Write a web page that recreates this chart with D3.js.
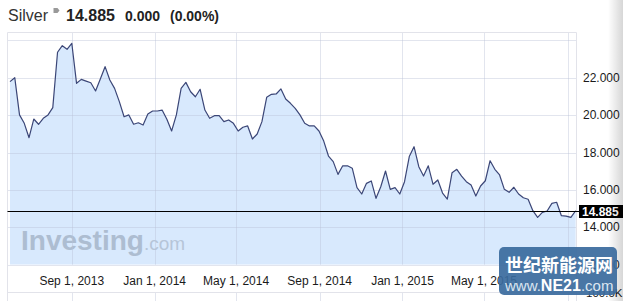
<!DOCTYPE html>
<html><head><meta charset="utf-8">
<script src="https://cdn.jsdelivr.net/npm/d3@7"></script>
<style>body{margin:0;background:#fff;overflow:hidden} svg{display:block}</style>
</head><body><svg id="c" width="623" height="301"></svg>
<script>
const dates = [
"2013-06-02","2013-06-09","2013-06-16","2013-06-23","2013-06-30","2013-07-07","2013-07-14","2013-07-21","2013-07-28",
"2013-08-04","2013-08-11","2013-08-18","2013-08-25","2013-09-01","2013-09-08","2013-09-15","2013-09-22","2013-09-29",
"2013-10-06","2013-10-13","2013-10-20","2013-10-27","2013-11-03","2013-11-10","2013-11-17","2013-11-24",
"2013-12-01","2013-12-08","2013-12-15","2013-12-22","2013-12-29",
"2014-01-05","2014-01-12","2014-01-19","2014-01-26","2014-02-02","2014-02-09","2014-02-16","2014-02-23",
"2014-03-02","2014-03-09","2014-03-16","2014-03-23","2014-03-30","2014-04-06","2014-04-13","2014-04-20","2014-04-27",
"2014-05-04","2014-05-11","2014-05-18","2014-05-25","2014-06-01","2014-06-08","2014-06-15","2014-06-22","2014-06-29",
"2014-07-06","2014-07-13","2014-07-20","2014-07-27","2014-08-03","2014-08-10","2014-08-17","2014-08-24","2014-08-31",
"2014-09-07","2014-09-14","2014-09-21","2014-09-28","2014-10-05","2014-10-12","2014-10-19","2014-10-26",
"2014-11-02","2014-11-09","2014-11-16","2014-11-23","2014-11-30","2014-12-07","2014-12-14","2014-12-21","2014-12-28",
"2015-01-04","2015-01-11","2015-01-18","2015-01-25","2015-02-01","2015-02-08","2015-02-15","2015-02-22",
"2015-03-01","2015-03-08","2015-03-15","2015-03-22","2015-03-29","2015-04-05","2015-04-12","2015-04-19","2015-04-26",
"2015-05-03","2015-05-10","2015-05-17","2015-05-24","2015-05-31","2015-06-07","2015-06-14","2015-06-21","2015-06-28",
"2015-07-05","2015-07-12","2015-07-19","2015-07-26","2015-08-02","2015-08-09","2015-08-16","2015-08-23","2015-08-30",
"2015-09-06","2015-09-13"];
const prices = [
21.79,22.00,20.01,19.56,18.79,19.79,19.51,19.83,20.01,20.40,
23.36,23.71,23.52,23.84,21.70,21.91,21.82,21.73,21.29,21.93,
22.59,21.88,21.43,20.72,19.91,20.01,19.51,19.59,19.47,20.06,
20.22,20.22,20.27,19.78,19.15,20.01,21.43,21.75,21.25,20.98,
21.38,20.27,19.83,19.97,19.97,19.65,19.74,19.56,19.15,19.35,
19.42,18.72,18.99,19.65,20.95,21.11,21.13,21.40,20.86,20.63,
20.36,20.01,19.56,19.42,19.42,19.15,18.61,17.81,17.51,16.83,
17.29,17.29,17.16,16.12,15.78,16.35,16.48,15.55,16.17,17.01,
16.03,16.12,15.78,16.44,17.78,18.31,17.24,16.74,17.29,16.30,
16.53,15.83,15.51,16.92,17.10,16.74,16.44,16.26,15.67,16.21,
16.49,17.56,17.10,16.80,16.03,15.87,16.14,15.78,15.58,15.50,
14.89,14.53,14.80,14.87,15.28,15.34,14.62,14.60,14.53,14.885];
const yGridValues = [12,14,16,18,20,22,24];
const yTickValues = [12,14,16,18,20,22];
const xTickDates = ["2013-09-01","2014-01-01","2014-05-01","2014-09-01","2015-01-01","2015-05-01","2015-09-01"];
const xTickLabels = ["Sep 1, 2013","Jan 1, 2014","May 1, 2014","Sep 1, 2014","Jan 1, 2015","May 1, 2015",""];
const instrument = "Silver";
const lastPrice = 14.885;
const change = "0.000";
const changePct = "(0.00%)";
const volumeLabel = "100.0K";

const svg = d3.select("#c");
const parse = d3.timeParse("%Y-%m-%d");
const data = dates.map((d,i)=>({date:parse(d), v:prices[i]}));
const L=7.5, R=576.5, T=32.5, B=264.7, VT=292.5, H=301;
const x = d3.scaleTime().domain([parse("2013-09-01"), parse("2015-09-01")]).range([71.8, 567.5]);
const y = d3.scaleLinear().domain([12,24]).range([264.7, 40.3]);
const fmt = d3.format(".3f");
const font = "Arial, 'Liberation Sans', sans-serif";

const defs = svg.append("defs");
const g1 = defs.append("linearGradient").attr("id","shade").attr("x1",0).attr("x2",1).attr("y1",0).attr("y2",0);
g1.append("stop").attr("offset",0).attr("stop-color","#000").attr("stop-opacity",0);
g1.append("stop").attr("offset",1).attr("stop-color","#000").attr("stop-opacity",0.16);
defs.append("clipPath").attr("id","plot").append("rect").attr("x",L).attr("y",T).attr("width",R-L).attr("height",B-T);

// area fill
svg.append("path").datum(data)
  .attr("clip-path","url(#plot)")
  .attr("fill","#d8e9fd")
  .attr("d", d3.area().x(d=>x(d.date)).y0(B).y1(d=>y(d.v)));

// watermark
const wm = svg.append("text").attr("x",21).attr("y",250).attr("font-family",font);
wm.append("tspan").attr("font-size",28).attr("font-weight","bold").attr("fill","#adbdd1").text("Investing");
wm.append("tspan").attr("font-size",19).attr("fill","#b6c5d8").text(".com");

// gridlines
const grid = svg.append("g").attr("stroke","rgba(185,192,215,0.42)").attr("stroke-width",1);
yGridValues.forEach(v=>{
  grid.append("line").attr("x1",L).attr("x2",R).attr("y1",Math.round(y(v))+0.5).attr("y2",Math.round(y(v))+0.5);
});
xTickDates.forEach(d=>{
  const xx = Math.round(x(parse(d)))+0.5;
  grid.append("line").attr("x1",xx).attr("x2",xx).attr("y1",T).attr("y2",B);
  grid.append("line").attr("x1",xx).attr("x2",xx).attr("y1",VT).attr("y2",H);
});
// frame
const fr = svg.append("g").attr("stroke","#e2e3ea").attr("fill","none");
fr.append("line").attr("x1",L).attr("x2",R).attr("y1",T).attr("y2",T);
fr.append("line").attr("x1",L).attr("x2",L).attr("y1",T).attr("y2",H);
fr.append("line").attr("x1",R).attr("x2",R).attr("y1",T).attr("y2",H);
fr.append("line").attr("x1",L).attr("x2",R).attr("y1",VT).attr("y2",VT);

// price line
svg.append("path").datum(data)
  .attr("fill","none").attr("stroke","#3b4677").attr("stroke-width",1.2).attr("stroke-linejoin","round")
  .attr("d", d3.line().x(d=>x(d.date)).y(d=>y(d.v)));

// last price line
const ly = Math.round(y(lastPrice))+0.5;
svg.append("line").attr("x1",L).attr("x2",580).attr("y1",ly).attr("y2",ly).attr("stroke","#000").attr("stroke-width",1);

// y axis labels
svg.append("g").selectAll("text").data(yTickValues).join("text")
  .attr("x",583).attr("y",v=>y(v)+4).attr("font-family",font).attr("font-size",12).attr("fill","#1a1a1a")
  .text(v=>fmt(v));
svg.append("rect").attr("x",579).attr("y",ly-6.5).attr("width",50).attr("height",13).attr("fill","#000");
svg.append("text").attr("x",582).attr("y",ly+4.5).attr("font-family",font).attr("font-size",12).attr("font-weight","bold").attr("fill","#fff").text(fmt(lastPrice));

// x axis labels
svg.append("g").selectAll("text").data(xTickDates).join("text")
  .attr("x",d=>x(parse(d))).attr("y",285).attr("text-anchor","middle")
  .attr("font-family",font).attr("font-size",12).attr("fill","#1a1a1a")
  .text((d,i)=>xTickLabels[i]);

// volume label
svg.append("text").attr("x",586).attr("y",297).attr("font-family",font).attr("font-size",11.5).attr("fill","#1a1a1a").text(volumeLabel);

// header
svg.append("text").attr("x",8).attr("y",21).attr("font-family",font).attr("font-size",16).attr("fill","#333").text(instrument);
svg.append("path").attr("d","M53.5,8 L57.5,8 L59.5,10.5 L57.5,13 L53.5,13 Z").attr("fill","#999");
svg.append("text").attr("x",66).attr("y",21).attr("font-family",font).attr("font-size",16).attr("font-weight","bold").attr("fill","#222").text(fmt(lastPrice));
svg.append("text").attr("x",125).attr("y",21).attr("font-family",font).attr("font-size",14).attr("font-weight","bold").attr("fill","#222").text(change);
svg.append("text").attr("x",170).attr("y",21).attr("font-family",font).attr("font-size",14).attr("font-weight","bold").attr("fill","#222").text(changePct);

// right edge shade
svg.append("rect").attr("x",608).attr("y",0).attr("width",15).attr("height",H).attr("fill","url(#shade)");

// NE21 logo
svg.append("rect").attr("x",499).attr("y",247).attr("width",118).attr("height",48).attr("rx",5)
  .attr("fill","#3a6a9d").attr("opacity",0.92);
svg.append("text").attr("x",505).attr("y",272).attr("font-family","'Noto Sans CJK SC', sans-serif")
  .attr("font-size",18).attr("font-weight","bold").attr("fill","#fff").text("世纪新能源网");
const lt = svg.append("text").attr("x",505).attr("y",291).attr("font-family",font);
lt.append("tspan").attr("font-size",15).attr("fill","#dce6f1").text("www.");
lt.append("tspan").attr("font-size",16).attr("font-weight","bold").attr("fill","#fff").text("NE21");
lt.append("tspan").attr("font-size",15).attr("fill","#dce6f1").text(".com");
</script>
</body></html>
